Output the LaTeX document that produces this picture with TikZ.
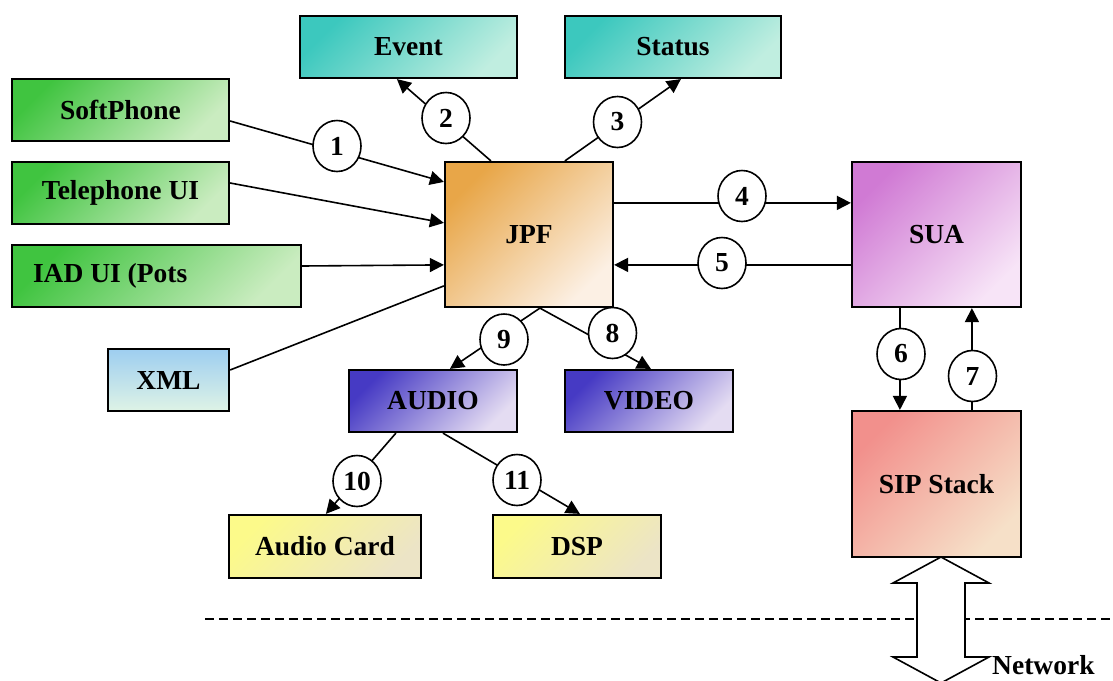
\documentclass[tikz,border=0pt]{standalone}
\usepackage{fontspec}
\setmainfont{Liberation Serif}
\usetikzlibrary{arrows.meta,calc,shapes.geometric}

% box fills: saturated corner -> pale corner
\definecolor{grnA}{RGB}{64,196,64}    \definecolor{grnB}{RGB}{202,236,192}
\definecolor{tealA}{RGB}{60,200,190}  \definecolor{tealB}{RGB}{192,238,224}
\definecolor{orgA}{RGB}{232,166,72}   \definecolor{orgB}{RGB}{252,240,228}
\definecolor{purA}{RGB}{208,122,212}  \definecolor{purB}{RGB}{247,228,247}
\definecolor{sipA}{RGB}{242,144,140}  \definecolor{sipB}{RGB}{246,224,200}
\definecolor{bluA}{RGB}{70,58,196}    \definecolor{bluB}{RGB}{228,220,242}
\definecolor{yelA}{RGB}{252,250,138}  \definecolor{yelB}{RGB}{236,228,198}
\definecolor{xmlA}{RGB}{158,206,240}  \definecolor{xmlB}{RGB}{222,243,230}

\newcommand{\lblfont}{\fontsize{27.5}{33}\selectfont\bfseries}

\tikzset{
  box/.style={draw, line width=2.2pt, inner sep=0pt, font=\lblfont},
  grad/.style 2 args={top color=#1, bottom color=#2, shading angle=45},
  conn/.style={line width=1.6pt},
  arr/.style={conn, -{Triangle[length=14pt,width=14pt]}},
  num/.style={ellipse, draw, fill=white, line width=1.6pt, inner sep=0pt,
              minimum width=48pt, minimum height=51pt, font=\lblfont},
}

\begin{document}
\begin{tikzpicture}[x=1pt, y=-1pt]
\useasboundingbox (0,0) rectangle (1113,680);

% ---- boxes ----
\node[box, grad={tealA}{tealB}, minimum width=217pt, minimum height=62pt] (event) at (408.5,47) {Event};
\node[box, grad={tealA}{tealB}, minimum width=216pt, minimum height=62pt] (status) at (673,47) {Status};
\node[box, grad={grnA}{grnB}, minimum width=217pt, minimum height=62pt] (soft) at (120.5,110) {SoftPhone};
\node[box, grad={grnA}{grnB}, minimum width=217pt, minimum height=62pt] (tel) at (120.5,193) {Telephone UI};
\node[box, grad={grnA}{grnB}, inner xsep=21pt, minimum height=62pt] (iad) at (156.5,276)
  {\makebox[247pt][l]{IAD UI (Pots}};
\node[box, top color=xmlA, bottom color=xmlB, minimum width=121pt, minimum height=62pt] (xml) at (168.5,380) {XML};
\node[box, grad={orgA}{orgB}, minimum width=168pt, minimum height=145pt] (jpf) at (529,234.5) {JPF};
\node[box, grad={purA}{purB}, minimum width=169pt, minimum height=145pt] (sua) at (936.5,234.5) {SUA};
\node[box, grad={sipA}{sipB}, minimum width=169pt, minimum height=146pt] (sip) at (936.5,484) {SIP Stack};
\node[box, grad={bluA}{bluB}, minimum width=168pt, minimum height=62pt] (audio) at (433,401) {AUDIO};
\node[box, grad={bluA}{bluB}, minimum width=168pt, minimum height=62pt] (video) at (649,401) {VIDEO};
\node[box, grad={yelA}{yelB}, minimum width=192pt, minimum height=63pt] (acard) at (325,546.5) {Audio Card};
\node[box, grad={yelA}{yelB}, minimum width=168pt, minimum height=63pt] (dsp) at (577,546.5) {DSP};

% ---- connectors ----
\draw[arr] ($(soft.east)+(0,11)$)  -- ($(jpf.north west)+(0,21)$);
\draw[arr] ($(tel.east)+(0,-10)$)  -- ($(jpf.north west)+(0,62)$);
\draw[arr] ($(iad.east)+(0,-10)$)  -- ($(jpf.north west)+(0,104)$);
\draw[conn] ($(xml.east)+(0,-10)$) -- ($(jpf.north west)+(0,125)$);
\draw[arr] ($(jpf.north west)+(47,0)$)  -- ($(event.south west)+(98,0)$);
\draw[arr] ($(jpf.north west)+(121,0)$) -- ($(status.south west)+(117,0)$);
\draw[arr] ($(jpf.north east)+(0,42)$)  -- ($(sua.north west)+(0,42)$);
\draw[arr] ($(sua.north west)+(0,104)$) -- ($(jpf.north east)+(0,104)$);
\draw[arr] ($(sua.south west)+(49,0)$)  -- ($(sip.north west)+(49,0)$);
\draw[arr] ($(sip.north west)+(121,0)$) -- ($(sua.south west)+(121,0)$);
\draw[arr] ($(jpf.south west)+(96,0)$)  -- ($(audio.north west)+(102,0)$);
\draw[arr] ($(jpf.south west)+(96,0)$)  -- ($(video.north west)+(87,0)$);
\draw[arr] ($(audio.south west)+(48,0)$) -- ($(acard.north west)+(98,0)$);
\draw[arr] ($(audio.south west)+(95,0)$) -- ($(dsp.north west)+(88,0)$);

% ---- numbered markers ----
\node[num] (c1)  at (337,146)   {1};
\node[num] (c2)  at (446,118)   {2};
\node[num] (c3)  at (617.5,122) {3};
\node[num] (c4)  at (742,196)   {4};
\node[num] (c5)  at (722,263)   {5};
\node[num] (c6)  at (901,354)   {6};
\node[num] (c7)  at (972.5,376) {7};
\node[num] (c8)  at (612.5,333) {8};
\node[num] (c9)  at (504,339.5) {9};
\node[num] (c10) at (357,481)   {10};
\node[num] (c11) at (517,480)   {11};

% ---- network boundary and link ----
\draw[line width=1.5pt, dash pattern=on 9pt off 5pt] (205,619) -- (1113,619);
\draw[line width=1.6pt, fill=white, line join=miter]
  (941,557) -- (989,583) -- (965,583) -- (965,657) -- (989,657) -- (941,683)
  -- (893,657) -- (917,657) -- (917,583) -- (893,583) -- cycle;
\node[font=\lblfont, anchor=base west, inner sep=0pt] (net) at (992,674) {Network};
\end{tikzpicture}
\end{document}
